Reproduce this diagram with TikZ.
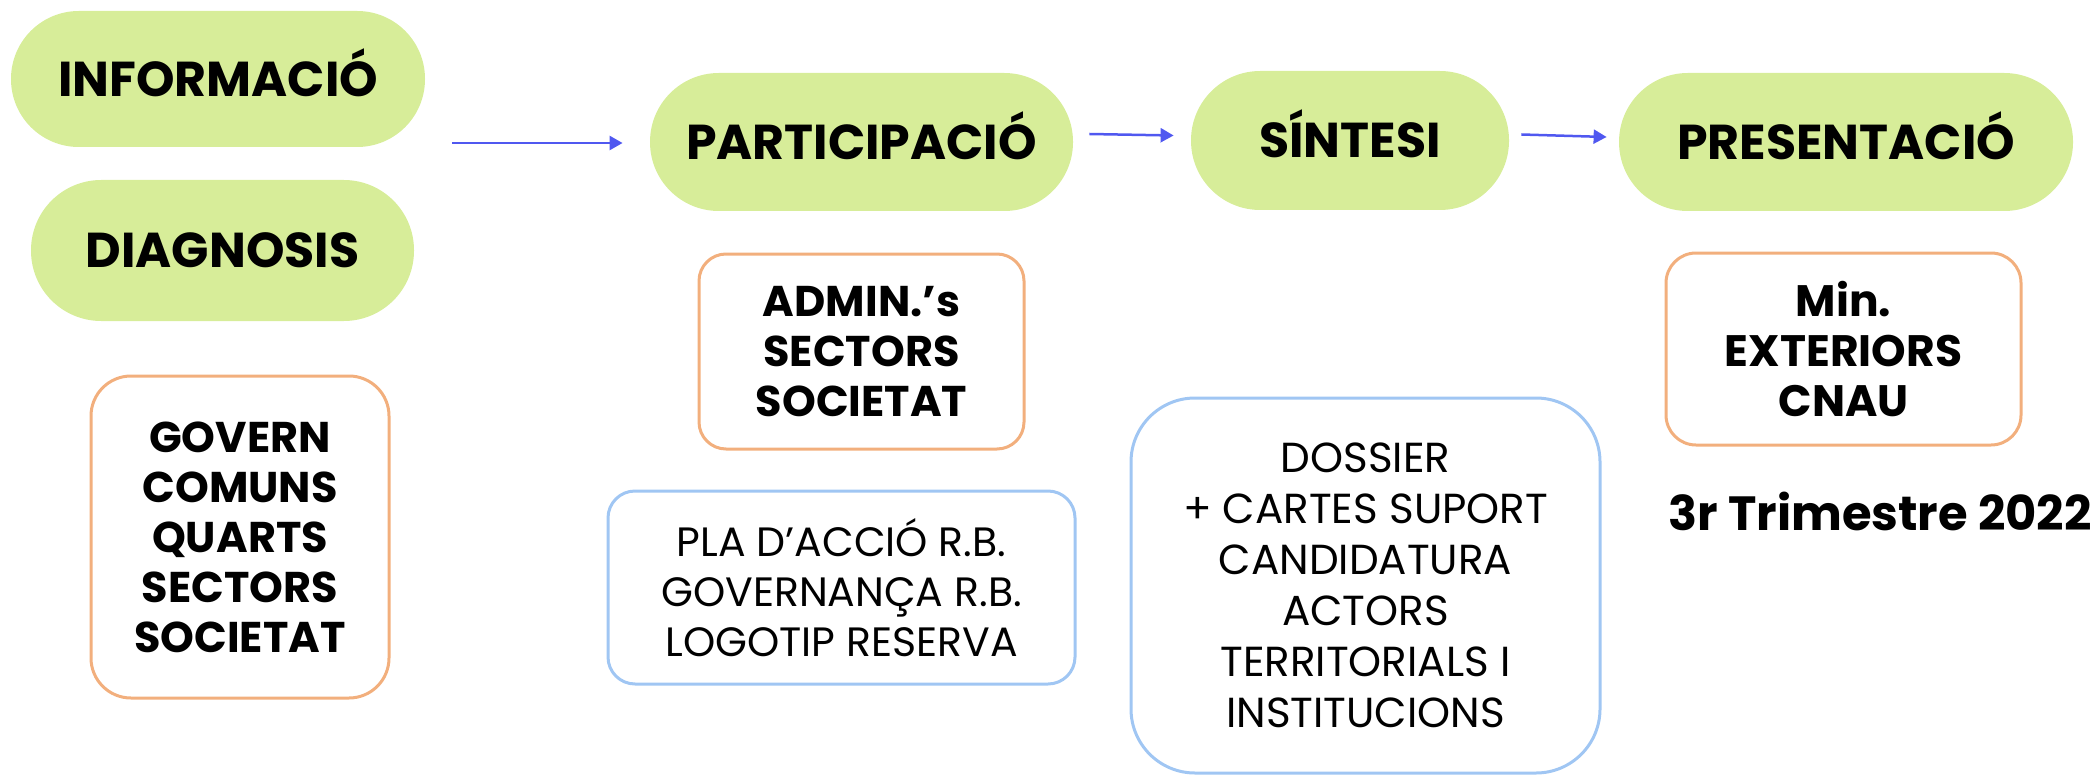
\documentclass[tikz,border=0pt]{standalone}
\usepackage{fontspec}
\setmainfont{Poppins}
\usetikzlibrary{arrows.meta,calc}
\definecolor{pillg}{HTML}{D7ED99}
\definecolor{orb}{HTML}{F2AF7D}
\definecolor{blb}{HTML}{A0C6F3}
\definecolor{arrb}{HTML}{5058F0}
\begin{document}
\begin{tikzpicture}[x=0.5pt,y=-0.5pt,
  pill/.style={fill=pillg, inner sep=0pt, font=\bfseries\fontsize{24.5}{30}\selectfont, text height=17.2pt, text depth=0pt},
  obox/.style={draw=orb, line width=1.5pt, inner sep=0pt, align=center, font=\bfseries\fontsize{21.5}{25}\selectfont},
  bbox/.style={draw=blb, line width=1.5pt, inner sep=0pt, align=center, font=\fontsize{20.5}{25}\selectfont},
  arr/.style={draw=arrb, line width=1.25pt, -{Triangle[length=6.5pt,width=7pt]}}]
\useasboundingbox (0,0) rectangle (2096,775);
% pills
\node[pill, minimum width=207pt, minimum height=68pt, rounded corners=33.9pt] (info) at (218,79) {INFORMACIÓ};
\node[pill, minimum width=191.5pt, minimum height=70.5pt, rounded corners=35.1pt] (diag) at (222.5,250.5) {DIAGNOSIS};
\node[pill, minimum width=211.5pt, minimum height=69pt, rounded corners=34.4pt] (part) at (861.5,142) {PARTICIPACIÓ};
\node[pill, minimum width=159pt, minimum height=69.5pt, rounded corners=34.6pt] (sint) at (1350,140.5) {SÍNTESI};
\node[pill, minimum width=227pt, minimum height=69pt, rounded corners=34.4pt] (pres) at (1846,142) {PRESENTACIÓ};
% boxes
\node[obox, minimum width=149pt, minimum height=161pt, rounded corners=20pt] (gov) at (240,537) {GOVERN\\COMUNS\\QUARTS\\SECTORS\\SOCIETAT};
\node[obox, minimum width=162.5pt, minimum height=97.5pt, rounded corners=13.5pt] (adm) at (861.5,351.5) {ADMIN.’s\\SECTORS\\SOCIETAT};
\node[bbox, minimum width=233.5pt, minimum height=96.5pt, rounded corners=13.5pt] (pla) at (841.5,587.5) {PLA D’ACCIÓ R.B.\\GOVERNANÇA R.B.\\LOGOTIP RESERVA};
\node[bbox, font=\fontsize{21}{25.5}\selectfont, minimum width=234.5pt, minimum height=187.5pt, rounded corners=32pt] (dos) at (1365.5,585.5) {DOSSIER\\+ CARTES SUPORT\\CANDIDATURA\\ACTORS\\TERRITORIALS I\\INSTITUCIONS};
\node[obox, font=\bfseries\fontsize{22}{25}\selectfont, minimum width=177.5pt, minimum height=96pt, rounded corners=15pt] (minb) at (1843.5,349) {Min.\\EXTERIORS\\CNAU};
\node[font=\bfseries\fontsize{24}{28}\selectfont, inner sep=0pt] (trim) at (1880,511) {3r Trimestre 2022};
% arrows
\coordinate (a1s) at (452,143);
\draw[arr] (a1s) -- ($(part.west)+(-27,1)$);
\draw[arr] ($(part.east)+(16,-8)$) -- ($(sint.west)+(-17,-5)$);
\draw[arr] ($(sint.east)+(12,-6)$) -- ($(pres.west)+(-12,-5)$);
\end{tikzpicture}
\end{document}
